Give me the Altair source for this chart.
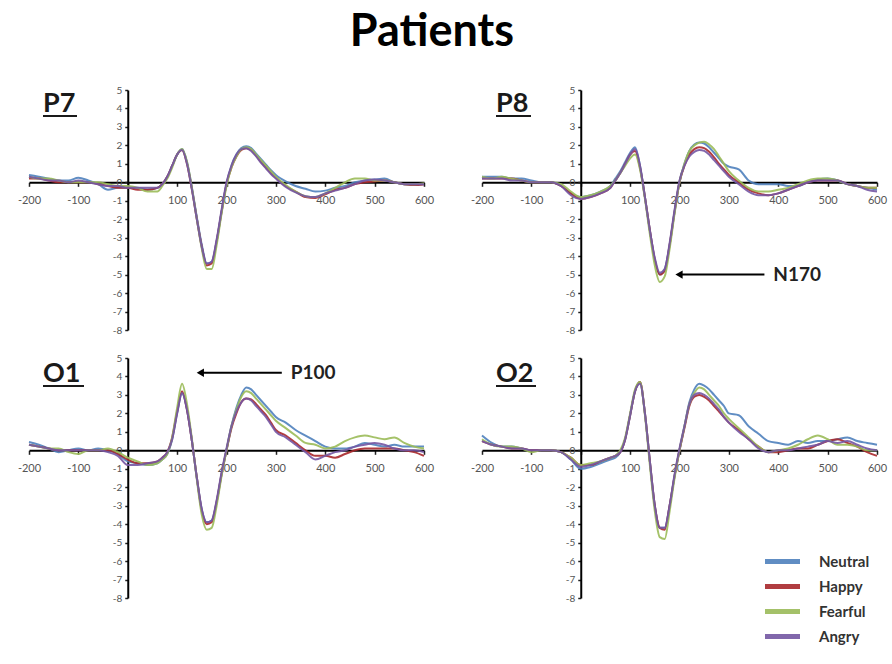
import altair as alt
import pandas as pd

TIME = [-200, -180, -160, -140, -120, -100, -80, -60, -40, -20, 0, 20, 40, 60,
        70, 80, 90, 100, 110, 120, 130, 140, 150, 160, 170, 180, 190, 200,
        210, 220, 230, 240, 250, 260, 270, 280, 290, 300,
        320, 340, 360, 380, 400, 420, 440, 460, 480, 500, 520, 540, 560, 580, 600]

CONDITIONS = ["Neutral", "Happy", "Fearful", "Angry"]
COLORS = ["#4F81BD", "#A8282C", "#9BBB59", "#7457A3"]

X_TICKS = [-200, -100, 0, 100, 200, 300, 400, 500, 600]
Y_TICKS = [-8, -7, -6, -5, -4, -3, -2, -1, 0, 1, 2, 3, 4, 5]

P7_NEUTRAL = [0.4, 0.3, 0.2, 0.1, 0.1, 0.25, 0.1, -0.1, -0.4, -0.3, -0.3, -0.3, -0.4, -0.3, -0.1,
              0.3, 0.9, 1.5, 1.8, 1.1, -0.3, -1.9, -3.4, -4.4, -4.3, -3.2, -1.6, -0.1, 0.9, 1.5,
              1.85, 1.95, 1.85, 1.55, 1.25, 0.95, 0.65, 0.4, 0.05, -0.2, -0.35, -0.5, -0.45, -0.3,
              -0.2, 0.0, 0.1, 0.15, 0.2, 0.0, -0.1, -0.1, -0.1]
P7_HAPPY = [0.2, 0.2, 0.1, 0.0, 0.0, 0.0, 0.0, -0.1, -0.2, -0.3, -0.3, -0.4, -0.4, -0.3, -0.1,
            0.3, 0.9, 1.5, 1.75, 1.0, -0.4, -2.0, -3.5, -4.5, -4.4, -3.2, -1.6, -0.1, 0.8, 1.4,
            1.75, 1.85, 1.75, 1.45, 1.1, 0.8, 0.5, 0.25, -0.2, -0.5, -0.8, -0.85, -0.65, -0.4,
            -0.3, -0.1, 0.0, 0.05, 0.1, 0.0, -0.1, -0.15, -0.1]
P7_FEARFUL = [0.3, 0.2, 0.2, 0.1, 0.0, 0.0, 0.0, 0.0, -0.1, -0.2, -0.2, -0.3, -0.5, -0.5, -0.2,
              0.2, 0.8, 1.5, 1.8, 1.1, -0.3, -2.0, -3.6, -4.7, -4.7, -3.4, -1.7, -0.2, 0.8, 1.4,
              1.8, 1.9, 1.8, 1.5, 1.2, 0.9, 0.6, 0.3, -0.15, -0.5, -0.75, -0.8, -0.6, -0.3,
              0.0, 0.2, 0.2, 0.1, 0.1, 0.0, -0.1, -0.1, -0.05]
P7_ANGRY = [0.3, 0.2, 0.1, 0.1, 0.0, 0.1, 0.0, -0.1, -0.2, -0.2, -0.3, -0.3, -0.3, -0.3, -0.1,
            0.3, 0.9, 1.5, 1.75, 1.0, -0.4, -2.0, -3.5, -4.4, -4.3, -3.1, -1.5, 0.0, 0.9, 1.5,
            1.8, 1.85, 1.7, 1.4, 1.05, 0.75, 0.45, 0.2, -0.25, -0.55, -0.75, -0.8, -0.6, -0.45,
            -0.3, -0.1, 0.1, 0.15, 0.1, 0.0, -0.1, -0.1, -0.1]

P8_NEUTRAL = [0.3, 0.3, 0.3, 0.2, 0.2, 0.1, 0.0, 0.0, -0.2, -0.6, -0.8, -0.7, -0.5, -0.2,
              0.2, 0.6, 1.1, 1.6, 1.9, 0.9, -0.8, -2.6, -4.2, -5.0, -4.7, -3.4, -1.6, 0.0,
              1.0, 1.7, 2.05, 2.15, 2.1, 1.9, 1.6, 1.3, 1.0, 0.85,
              0.7, 0.1, -0.1, -0.1, -0.1, -0.2, -0.2, 0.0, 0.15, 0.2, 0.1, -0.1, -0.2, -0.3, -0.4]
P8_HAPPY = [0.2, 0.2, 0.2, 0.2, 0.1, 0.0, 0.0, 0.0, -0.2, -0.6, -0.9, -0.8, -0.6, -0.3,
            0.1, 0.5, 1.0, 1.5, 1.7, 0.8, -0.8, -2.6, -4.2, -5.0, -4.8, -3.4, -1.6, 0.0,
            0.9, 1.5, 1.8, 1.9, 1.85, 1.65, 1.35, 1.0, 0.7, 0.4,
            0.0, -0.4, -0.6, -0.7, -0.6, -0.4, -0.2, 0.0, 0.1, 0.1, 0.1, -0.1, -0.2, -0.3, -0.3]
P8_FEARFUL = [0.3, 0.2, 0.3, 0.2, 0.1, 0.0, 0.0, 0.0, -0.1, -0.5, -0.8, -0.7, -0.5, -0.2,
              0.1, 0.5, 0.9, 1.3, 1.5, 0.7, -0.9, -2.8, -4.5, -5.4, -5.1, -3.6, -1.7, 0.0,
              1.0, 1.7, 2.0, 2.15, 2.2, 2.05, 1.8, 1.4, 1.0, 0.6,
              0.1, -0.3, -0.5, -0.5, -0.4, -0.3, -0.1, 0.1, 0.2, 0.2, 0.1, -0.1, -0.2, -0.3, -0.3]
P8_ANGRY = [0.2, 0.2, 0.2, 0.1, 0.1, 0.0, 0.0, 0.0, -0.2, -0.7, -0.9, -0.8, -0.6, -0.3,
            0.1, 0.5, 1.0, 1.5, 1.8, 0.9, -0.8, -2.6, -4.1, -4.9, -4.7, -3.3, -1.5, 0.1,
            0.9, 1.4, 1.65, 1.75, 1.7, 1.5, 1.2, 0.9, 0.6, 0.3,
            -0.1, -0.5, -0.7, -0.7, -0.6, -0.4, -0.2, 0.0, 0.1, 0.1, 0.1, -0.1, -0.2, -0.4, -0.5]

O1_NEUTRAL = [0.45, 0.3, 0.1, -0.1, 0.0, 0.1, 0.0, 0.1, 0.0, -0.2, -0.6, -0.7, -0.8, -0.7,
              -0.5, -0.2, 0.6, 2.0, 3.1, 2.2, 0.5, -1.5, -3.2, -3.9, -3.8, -2.8, -1.3, 0.0,
              1.3, 2.3, 3.0, 3.4, 3.3, 3.0, 2.7, 2.4, 2.1, 1.8,
              1.5, 1.1, 0.8, 0.5, 0.2, 0.1, 0.1, 0.2, 0.4, 0.3, 0.2, 0.3, 0.2, 0.2, 0.2]
O1_HAPPY = [0.3, 0.2, 0.1, 0.0, 0.0, 0.0, 0.0, 0.0, 0.0, -0.2, -0.5, -0.7, -0.7, -0.6,
            -0.4, -0.1, 0.7, 2.1, 3.2, 2.2, 0.5, -1.5, -3.3, -4.0, -3.9, -2.8, -1.3, 0.0,
            1.2, 2.0, 2.6, 2.8, 2.75, 2.5, 2.2, 1.9, 1.5, 1.1,
            0.8, 0.4, 0.0, -0.3, -0.3, -0.4, -0.2, 0.0, 0.1, 0.1, 0.1, 0.1, 0.0, -0.1, -0.3]
O1_FEARFUL = [0.3, 0.2, 0.1, 0.1, -0.1, -0.2, 0.0, 0.0, 0.1, -0.1, -0.4, -0.6, -0.8, -0.7,
              -0.5, -0.2, 0.7, 2.3, 3.6, 2.5, 0.6, -1.6, -3.5, -4.3, -4.2, -3.0, -1.4, 0.0,
              1.3, 2.2, 2.9, 3.2, 3.1, 2.8, 2.5, 2.2, 1.9, 1.6,
              1.2, 0.8, 0.4, 0.3, 0.1, 0.2, 0.5, 0.7, 0.8, 0.7, 0.6, 0.7, 0.4, 0.2, 0.1]
O1_ANGRY = [0.3, 0.2, 0.1, 0.0, 0.0, 0.0, 0.0, 0.0, -0.1, -0.3, -0.8, -0.8, -0.7, -0.6,
            -0.4, -0.1, 0.6, 2.0, 3.1, 2.2, 0.5, -1.5, -3.2, -3.9, -3.8, -2.7, -1.2, 0.1,
            1.3, 2.1, 2.6, 2.8, 2.7, 2.4, 2.1, 1.8, 1.4, 1.0,
            0.7, 0.3, -0.1, -0.5, -0.3, -0.1, 0.0, 0.2, 0.3, 0.4, 0.3, 0.1, 0.0, 0.0, -0.1]

O2_NEUTRAL = [0.8, 0.4, 0.2, 0.2, 0.1, 0.0, 0.0, 0.0, -0.1, -0.5, -1.0, -0.9, -0.7, -0.5,
              -0.4, -0.1, 0.6, 1.9, 3.2, 3.7, 2.0, -0.6, -3.0, -4.2, -4.2, -3.0, -1.4, 0.0,
              1.3, 2.6, 3.3, 3.6, 3.5, 3.3, 3.0, 2.7, 2.4, 2.0,
              1.9, 1.3, 0.9, 0.5, 0.4, 0.3, 0.5, 0.4, 0.5, 0.5, 0.6, 0.7, 0.5, 0.4, 0.3]
O2_HAPPY = [0.5, 0.3, 0.2, 0.1, 0.1, 0.0, 0.0, 0.0, -0.1, -0.4, -0.8, -0.8, -0.6, -0.4,
            -0.3, -0.1, 0.6, 1.9, 3.2, 3.7, 2.0, -0.6, -3.0, -4.2, -4.3, -3.0, -1.4, 0.0,
            1.2, 2.4, 2.9, 3.0, 2.9, 2.7, 2.4, 2.1, 1.8, 1.5,
            1.1, 0.6, 0.2, -0.1, -0.1, 0.0, 0.1, 0.1, 0.3, 0.5, 0.6, 0.4, 0.2, -0.1, -0.3]
O2_FEARFUL = [0.6, 0.3, 0.2, 0.2, 0.1, -0.1, 0.0, 0.0, -0.1, -0.4, -0.8, -0.7, -0.6, -0.4,
              -0.3, 0.0, 0.7, 2.0, 3.3, 3.7, 1.9, -0.8, -3.3, -4.7, -4.8, -3.3, -1.5, 0.0,
              1.3, 2.5, 3.1, 3.4, 3.3, 3.0, 2.7, 2.4, 2.0, 1.7,
              1.2, 0.7, 0.2, -0.1, 0.0, 0.1, 0.3, 0.6, 0.8, 0.6, 0.3, 0.3, 0.2, 0.0, 0.0]
O2_ANGRY = [0.5, 0.3, 0.2, 0.1, 0.1, 0.0, 0.0, 0.0, -0.1, -0.5, -0.9, -0.8, -0.6, -0.4,
            -0.3, -0.1, 0.6, 1.9, 3.2, 3.6, 2.0, -0.6, -3.0, -4.2, -4.2, -3.0, -1.3, 0.1,
            1.3, 2.5, 3.0, 3.1, 3.0, 2.8, 2.5, 2.2, 1.8, 1.5,
            1.0, 0.6, 0.1, -0.1, 0.0, 0.0, 0.1, 0.2, 0.3, 0.5, 0.4, 0.5, 0.3, 0.1, 0.0]

# annotations: (label, arrow tip ms, arrow tail ms, level, text start ms)
N170_NOTE = ("N170", 196, 372, -5.0, 390)
P100_NOTE = ("P100", 144, 312, 4.2, 330)

W, H = 395, 240
FONT = "Lato"
MINUS_FIX = "replace(datum.label, '\u2212', '-')"


def x_enc(field="time"):
    return alt.X(f"{field}:Q", scale=alt.Scale(domain=[-200, 600], nice=False, zero=False),
                 axis=alt.Axis(values=X_TICKS, offset=-(H * 8 / 13), title=None, grid=False,
                               labelExpr="datum.value == 0 ? '' : " + MINUS_FIX,
                               labelFlush=False, labelOverlap=False,
                               domainColor="black", domainWidth=2, tickColor="#222",
                               tickSize=4, tickWidth=1.5, labelFont=FONT, labelFontSize=11,
                               labelColor="#555", labelPadding=8))


def y_enc():
    return alt.Y("value:Q", scale=alt.Scale(domain=[-8, 5], nice=False, zero=False),
                 axis=alt.Axis(values=Y_TICKS, offset=-(W * 200 / 800), title=None, grid=False,
                               labelExpr=MINUS_FIX,
                               labelFlush=False, labelOverlap=False,
                               domainColor="black", domainWidth=2, tickColor="#222",
                               tickSize=3, tickWidth=1.5, labelFont=FONT, labelFontSize=10,
                               labelColor="#555", labelPadding=3))


def panel(name, series, label_y, underline_w, note=None):
    rows = []
    for cond, vals in zip(CONDITIONS, series):
        assert len(vals) == len(TIME), (name, cond, len(vals))
        for t, v in zip(TIME, vals):
            rows.append({"time": t, "value": v, "condition": cond})
    df = pd.DataFrame(rows)
    lines = alt.Chart(df).mark_line(strokeWidth=2, interpolate="monotone", opacity=0.9).encode(
        x=x_enc(), y=y_enc(),
        color=alt.Color("condition:N", scale=alt.Scale(domain=CONDITIONS, range=COLORS),
                        legend=alt.Legend(title=None, orient="none", legendX=741, legendY=459,
                                          symbolType="M-1.75,0L1.75,0", symbolSize=400,
                                          symbolStrokeWidth=5, labelFont=FONT,
                                          labelFontSize=15, labelFontWeight="bold",
                                          labelColor="#333", rowPadding=2, labelOffset=24)),
        detail="condition:N",
    )
    lab_df = pd.DataFrame({"label": [name]})
    label = alt.Chart(lab_df).mark_text(align="left", baseline="alphabetic", font=FONT,
                                        fontSize=27, fontWeight="bold", color="#1a1a1a").encode(
        x=alt.value(14), y=alt.value(label_y), text="label:N")
    underline = alt.Chart(lab_df).mark_rule(color="#1a1a1a", strokeWidth=2.2).encode(
        x=alt.value(14), x2=alt.value(14 + underline_w), y=alt.value(label_y + 4))
    layers = [lines, label, underline]
    if note is not None:
        text, tip, tail, lvl, tx = note
        arrow_df = pd.DataFrame({"time": [tail], "time2": [tip + 4], "value": [lvl]})
        tip_df = pd.DataFrame({"time": [tip + 3], "value": [lvl]})
        txt_df = pd.DataFrame({"time": [tx], "value": [lvl], "label": [text]})
        layers.append(alt.Chart(arrow_df).mark_rule(color="black", strokeWidth=2).encode(
            x=x_enc(), x2="time2:Q", y=y_enc()))
        layers.append(alt.Chart(tip_df).mark_point(shape="triangle-left", filled=True, size=70,
                                                   color="black", opacity=1).encode(
            x=x_enc(), y=y_enc()))
        layers.append(alt.Chart(txt_df).mark_text(align="left", baseline="middle", font=FONT,
                                                  fontSize=19, fontWeight="bold",
                                                  color="#222").encode(
            x=x_enc(), y=y_enc(), text="label:N"))
    return alt.layer(*layers).properties(width=W, height=H)


p7 = panel("P7", [P7_NEUTRAL, P7_HAPPY, P7_FEARFUL, P7_ANGRY], 22, 34)
p8 = panel("P8", [P8_NEUTRAL, P8_HAPPY, P8_FEARFUL, P8_ANGRY], 22, 35, N170_NOTE)
o1 = panel("O1", [O1_NEUTRAL, O1_HAPPY, O1_FEARFUL, O1_ANGRY], 24, 41, P100_NOTE)
o2 = panel("O2", [O2_NEUTRAL, O2_HAPPY, O2_FEARFUL, O2_ANGRY], 24, 40)

chart = alt.concat(p7, p8, o1, o2, columns=2, spacing={"row": 28, "column": 58},
                   bounds="flush").properties(
    title=alt.TitleParams("Patients", fontSize=45, font=FONT, fontWeight="bold",
                          anchor="middle", dx=-20, offset=30, color="black"),
    padding={"left": 17, "top": 10, "right": 5, "bottom": 5},
    background="white",
).configure_view(stroke=None)

chart.save("out.html", embed_options={"renderer": "svg", "actions": False})
